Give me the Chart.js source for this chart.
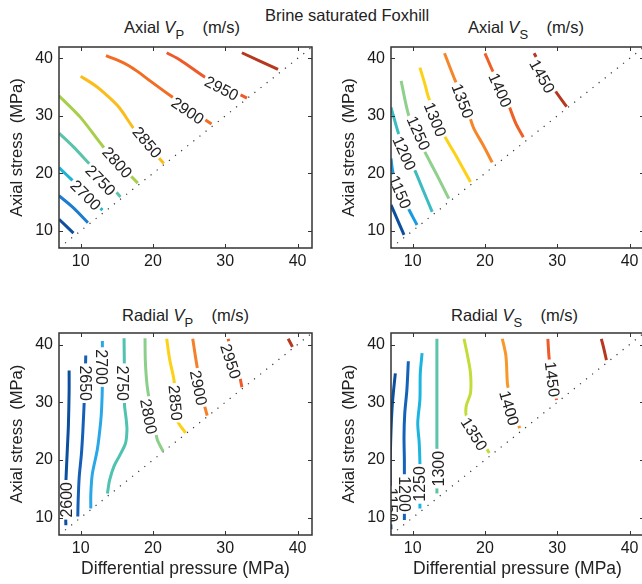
<!DOCTYPE html>
<html>
<head>
<meta charset="utf-8">
<script src="https://cdn.jsdelivr.net/npm/chart.js@4.4.1/dist/chart.umd.min.js"></script>
<style>
html, body { margin: 0; padding: 0; background: #fff; overflow: hidden; }
#fig { position: relative; width: 642px; height: 584px; overflow: hidden;
       font-family: "Liberation Sans", Arial, Helvetica, sans-serif; color: #222; }
canvas { position: absolute; }
.ttl { position: absolute; font-size: 16.5px; line-height: 16.5px; white-space: pre; }
.ttl i { font-style: italic; }
.ttl sub { font-size: 13px; vertical-align: -6px; line-height: 0; }
</style>
</head>
<body>
<div id="fig">
  <div class="ttl" style="left:265px;top:7px;">Brine saturated Foxhill</div>
  <div class="ttl" style="left:124px;top:19px;">Axial <i>V</i><sub>P</sub>    (m/s)</div>
  <div class="ttl" style="left:468px;top:19px;">Axial <i>V</i><sub>S</sub>    (m/s)</div>
  <div class="ttl" style="left:122px;top:307px;">Radial <i>V</i><sub>P</sub>    (m/s)</div>
  <div class="ttl" style="left:451px;top:307px;">Radial <i>V</i><sub>S</sub>    (m/s)</div>
  <canvas id="axialVp" width="321" height="290" style="left:0;top:0;"></canvas>
  <canvas id="axialVs" width="335" height="290" style="left:321px;top:0;"></canvas>
  <canvas id="radialVp" width="321" height="294" style="left:0;top:290px;"></canvas>
  <canvas id="radialVs" width="335" height="294" style="left:321px;top:290px;"></canvas>
</div>
<script>
const FONT = '"Liberation Sans", Arial, Helvetica, sans-serif';
const axisRange = [7, 42];
const diagonal = [7, 42];

// Axial Vp (m/s)
const axialVpLevels = [2600, 2650, 2700, 2750, 2800, 2850, 2900, 2950, 3000];
const axialVpX = [
    [7, 9],
    [7, 9, 11],
    [7, 9, 11, 13],
    [7, 9, 11.4, 13.5, 15.5],
    [7, 10, 13.2, 15.6, 17.9],
    [10, 12, 13.7, 15.3, 17.4, 19.5, 21.5],
    [13.5, 16, 17.8, 19.6, 23.1, 25.5, 28.1],
    [21.9, 23.8, 27.5, 30, 33],
    [32.3, 37.3]
];
const axialVpY = [
    [12.0, 9.6],
    [16.1, 14.0, 11.4],
    [21.0, 18.6, 16.2, 13.6],
    [27.0, 24.6, 21.4, 18.7, 15.9],
    [33.5, 29.7, 24.5, 21.3, 18.3],
    [36.9, 35.3, 33.5, 31.5, 27.7, 24.6, 21.7],
    [40.5, 39.2, 37.8, 36.1, 32.9, 30.8, 28.6],
    [41, 39.7, 36.5, 35, 33.1],
    [41.0, 38.1]
];
const axialVpLabelText = ['2700', '2750', '2800', '2850', '2900', '2950'];
const axialVpLabelX = [10.7, 12.75, 15.05, 19.2, 24.8, 29.5];
const axialVpLabelY = [16.2, 18.8, 21.9, 25.4, 30.9, 34.8];
const axialVpLabelAngle = [45, 46, 48, 50, 34, 27];

// Axial Vs (m/s)
const axialVsLevels = [1100, 1150, 1200, 1250, 1300, 1350, 1400, 1450];
const axialVsX = [
    [7, 8.8],
    [7, 7.3, 8.3, 9.2, 10.6],
    [7, 8.2, 9.2, 10.3, 11.5, 12.7],
    [8.4, 9.4, 10.5, 11.7, 13.4, 15.0],
    [11.0, 11.7, 12.2, 13.3, 14.3, 16.2, 18.0],
    [14.4, 15.9, 17, 18.0, 18.5, 19.8, 21.0],
    [20, 21.3, 22.5, 23.4, 24.3, 25.3],
    [26.8, 27.5, 28.5, 29.6, 31.3]
];
const axialVsY = [
    [14.5, 9.3],
    [22.6, 20, 17, 14.4, 11.0],
    [31.5, 26.3, 23.5, 20.5, 16.9, 13.3],
    [36.1, 30.3, 26.8, 23.7, 19.6, 15.6],
    [38.4, 35.5, 33.2, 30, 26.8, 22.6, 18.5],
    [40.9, 36.1, 33, 29.4, 27.7, 24.8, 21.9],
    [40.9, 37.2, 34.5, 31.5, 28.6, 26.3],
    [40.9, 39.3, 37, 34.6, 31.6]
];
const axialVsLabelText = ['1150', '1200', '1250', '1300', '1350', '1400', '1450'];
const axialVsLabelX = [8.23, 8.84, 10.8, 13.1, 16.9, 22.1, 27.9];
const axialVsLabelY = [16.75, 23.5, 27.0, 29.4, 32.6, 34.5, 36.9];
const axialVsLabelAngle = [67, 66, 66, 68, 69, 66, 61];

// Radial Vp (m/s)
const radialVpLevels = [2600, 2650, 2700, 2750, 2800, 2850, 2900, 2950, 3000];
const radialVpX = [
    [8.4, 8.4, 8.3, 8.15, 7.95, 7.9, 7.95],
    [10.7, 10.6, 10.5, 10.3, 10.1, 9.8, 9.65, 9.6],
    [13.0, 13.0, 12.9, 12.75, 12.3, 11.6, 11.4, 11.4],
    [16.0, 16.05, 16.06, 16.3, 16.4, 16.2, 15.4, 14.6, 14.0, 13.7],
    [18.9, 18.95, 19.2, 19.7, 20.3, 20.6, 21.4],
    [21.9, 22.3, 22.9, 23.1, 23.3, 24.5],
    [25.5, 26.1, 26.6, 27.1, 27.5],
    [30.4, 30.9, 31.5, 32.05, 32.3],
    [38.7, 39.3]
];
const radialVpY = [
    [35.5, 32, 26, 21.8, 16, 12, 8.7],
    [38.1, 33, 30.4, 25, 21, 17.1, 13, 10.2],
    [40.6, 33, 29, 26.4, 21.8, 17.5, 14, 11.6],
    [41.1, 35, 29.6, 27, 25.2, 22.9, 20.8, 18.9, 16.5, 14.2],
    [41.1, 37, 32.8, 29, 25.5, 23.5, 21.5],
    [41, 37.5, 33.9, 31, 27, 24.7],
    [41, 36.2, 33, 29.6, 27.7],
    [41, 38.5, 36.5, 34.2, 32.6],
    [41, 39.6]
];
const radialVpLabelText = ['2600', '2650', '2700', '2750', '2800', '2850', '2900', '2950'];
const radialVpLabelX = [8.07, 10.7, 12.9, 15.75, 19.4, 23.1, 26.3, 30.76];
const radialVpLabelY = [13.1, 33.3, 36.1, 33.3, 27.55, 29.9, 32.5, 37.1];
const radialVpLabelAngle = [-90, 90, 90, 90, 79, 85, 79, 72];

// Radial Vs (m/s)
const radialVsLevels = [1150, 1200, 1250, 1300, 1350, 1400, 1450, 1500];
const radialVsX = [
    [7.6, 7.35, 7.15, 7.0, 6.9, 6.9, 6.9, 7.0],
    [9.4, 9.2, 8.9, 8.8, 8.85, 8.85, 8.85, 8.85],
    [11.3, 11.05, 11.0, 10.7, 10.9, 11.0, 11.0, 11.0],
    [13.35, 13.35, 13.35, 13.35],
    [17.1, 17.6, 18.0, 18.0, 17.4, 17.5, 19, 20.6],
    [22.4, 22.9, 23.1, 23.3, 24, 24.8],
    [28.7, 28.9, 29.4, 29.9],
    [36.1, 36.5, 36.8]
];
const radialVsY = [
    [35, 32, 29, 25, 20, 15, 11, 8],
    [37.1, 32.2, 28, 24, 20, 16.5, 13, 9.6],
    [38.5, 35, 30.5, 26.4, 23, 19.4, 15, 11.6],
    [41, 30, 22.3, 14.2],
    [41, 38, 35, 31.6, 29.3, 27.3, 24.5, 21.2],
    [41, 38, 33.3, 31.9, 28.5, 25.5],
    [41, 37.4, 34, 30.4],
    [41, 39, 37.3]
];
const radialVsLabelText = ['1150', '1200', '1250', '1300', '1350', '1400', '1450'];
const radialVsLabelX = [7.07, 8.84, 10.93, 13.6, 18.5, 23.35, 29.3];
const radialVsLabelY = [12.2, 14.1, 15.85, 18.5, 24.5, 29.0, 34.0];
const radialVsLabelAngle = [90, 90, -90, -90, 58, 74, 83];

const colorsP = ['#0c4f9e', '#1c7ccd', '#1cb3d6', '#5bc3a9', '#a7cf4c', '#fbbd1c', '#f26c22', '#ee5a2a', '#b5381f'];
const colorsAxialS = ['#0c4f9e', '#1a9be0', '#3cbcc0', '#8fd08d', '#fcd116', '#f5862a', '#ef6026', '#b5381f'];
const colorsRadialP = ['#0c4f9e', '#1560b6', '#2aa7e6', '#4fc2b0', '#8ccf8a', '#fcd116', '#f5802a', '#ee5a2a', '#b5381f'];
const colorsRadialS = ['#0c4f9e', '#1563b8', '#1db5e0', '#5cc4a8', '#c2dc3a', '#f7982a', '#ee5a2a', '#b5381f'];

// box with inward ticks (matlab style)
const boxPlugin = {
    id: 'box',
    afterDraw(chart) {
        const {ctx, chartArea: a, scales} = chart;
        ctx.save();
        ctx.strokeStyle = '#333';
        ctx.lineWidth = 1.5;
        ctx.strokeRect(a.left, a.top, a.right - a.left, a.bottom - a.top);
        ctx.lineWidth = 1;
        ctx.beginPath();
        scales.x.ticks.forEach(t => {
            const px = Math.round(scales.x.getPixelForValue(t.value)) + 0.5;
            ctx.moveTo(px, a.bottom); ctx.lineTo(px, a.bottom - 4);
            ctx.moveTo(px, a.top); ctx.lineTo(px, a.top + 4);
        });
        scales.y.ticks.forEach(t => {
            const py = Math.round(scales.y.getPixelForValue(t.value)) + 0.5;
            ctx.moveTo(a.left, py); ctx.lineTo(a.left + 4, py);
            ctx.moveTo(a.right, py); ctx.lineTo(a.right - 4, py);
        });
        ctx.stroke();
        ctx.restore();
    }
};

// contour labels, drawn inline with a white gap
const contourLabelPlugin = {
    id: 'contourLabels',
    afterDatasetsDraw(chart, args, opts) {
        const {ctx, chartArea: a, scales} = chart;
        ctx.save();
        ctx.beginPath();
        ctx.rect(a.left, a.top, a.right - a.left, a.bottom - a.top);
        ctx.clip();
        ctx.font = '16px ' + FONT;
        ctx.textAlign = 'center';
        ctx.textBaseline = 'middle';
        opts.text.forEach((txt, i) => {
            const px = scales.x.getPixelForValue(opts.x[i]);
            const py = scales.y.getPixelForValue(opts.y[i]);
            const w = ctx.measureText(txt).width;
            ctx.save();
            ctx.translate(px, py);
            ctx.rotate(opts.angle[i] * Math.PI / 180);
            ctx.fillStyle = '#fff';
            ctx.fillRect(-w / 2 - 2, -6.5, w + 4, 13);
            ctx.fillStyle = '#222';
            ctx.fillText(txt, 0, 1);
            ctx.restore();
        });
        ctx.restore();
    }
};

function makeChart(id, levels, xs, ys, colors, labels, layout) {
    const datasets = levels.map((lv, i) => ({
        label: String(lv),
        data: xs[i].map((x, j) => ({x: x, y: ys[i][j]})),
        borderColor: colors[i],
        borderWidth: 3,
        borderCapStyle: 'butt',
        tension: 0.3,
        pointRadius: 0,
        showLine: true,
        order: 1
    }));
    datasets.push({
        label: 'diagonal',
        data: diagonal.map(v => ({x: v, y: v})),
        borderColor: '#333',
        borderWidth: 1.2,
        borderDash: [1.2, 6.6],
        pointRadius: 0,
        showLine: true,
        order: 5
    });

    const tickFont = {family: FONT, size: 16};
    const titleFont = {family: FONT, size: 16.5};

    return new Chart(document.getElementById(id), {
        type: 'scatter',
        data: {datasets: datasets},
        options: {
            responsive: false,
            animation: false,
            devicePixelRatio: 1,
            layout: {padding: {left: 0, top: layout.top, right: layout.right, bottom: 0}},
            plugins: {
                legend: {display: false},
                tooltip: {enabled: false},
                contourLabels: labels
            },
            scales: {
                x: {
                    type: 'linear', min: axisRange[0], max: axisRange[1],
                    grid: {display: false, drawTicks: false},
                    border: {display: false},
                    ticks: {stepSize: 10, includeBounds: false, padding: 4, color: '#1a1a1a', font: tickFont},
                    title: {display: layout.xTitle, text: 'Differential pressure (MPa)', color: '#222',
                            font: {family: FONT, size: 17.5}, padding: {top: 0, bottom: 4}},
                    afterFit: s => { s.height = layout.xHeight; }
                },
                y: {
                    type: 'linear', min: axisRange[0], max: axisRange[1],
                    grid: {display: false, drawTicks: false},
                    border: {display: false},
                    ticks: {stepSize: 10, includeBounds: false, padding: 6, color: '#1a1a1a', font: tickFont},
                    title: {display: true, text: 'Axial stress  (MPa)', color: '#222',
                            font: titleFont, padding: {top: layout.yTitlePad, bottom: 0}},
                    afterFit: s => { s.width = layout.yWidth; }
                }
            }
        },
        plugins: [contourLabelPlugin, boxPlugin]
    });
}

makeChart('axialVp', axialVpLevels, axialVpX, axialVpY, colorsP,
    {text: axialVpLabelText, x: axialVpLabelX, y: axialVpLabelY, angle: axialVpLabelAngle},
    {top: 47, right: 9, xHeight: 42, yWidth: 59, yTitlePad: 8, xTitle: false});

makeChart('axialVs', axialVsLevels, axialVsX, axialVsY, colorsAxialS,
    {text: axialVsLabelText, x: axialVsLabelX, y: axialVsLabelY, angle: axialVsLabelAngle},
    {top: 47, right: 12, xHeight: 42, yWidth: 70, yTitlePad: 19, xTitle: false});

makeChart('radialVp', radialVpLevels, radialVpX, radialVpY, colorsRadialP,
    {text: radialVpLabelText, x: radialVpLabelX, y: radialVpLabelY, angle: radialVpLabelAngle},
    {top: 43, right: 9, xHeight: 49, yWidth: 59, yTitlePad: 8, xTitle: true});

makeChart('radialVs', radialVsLevels, radialVsX, radialVsY, colorsRadialS,
    {text: radialVsLabelText, x: radialVsLabelX, y: radialVsLabelY, angle: radialVsLabelAngle},
    {top: 43, right: 12, xHeight: 49, yWidth: 70, yTitlePad: 19, xTitle: true});
</script>
</body>
</html>
